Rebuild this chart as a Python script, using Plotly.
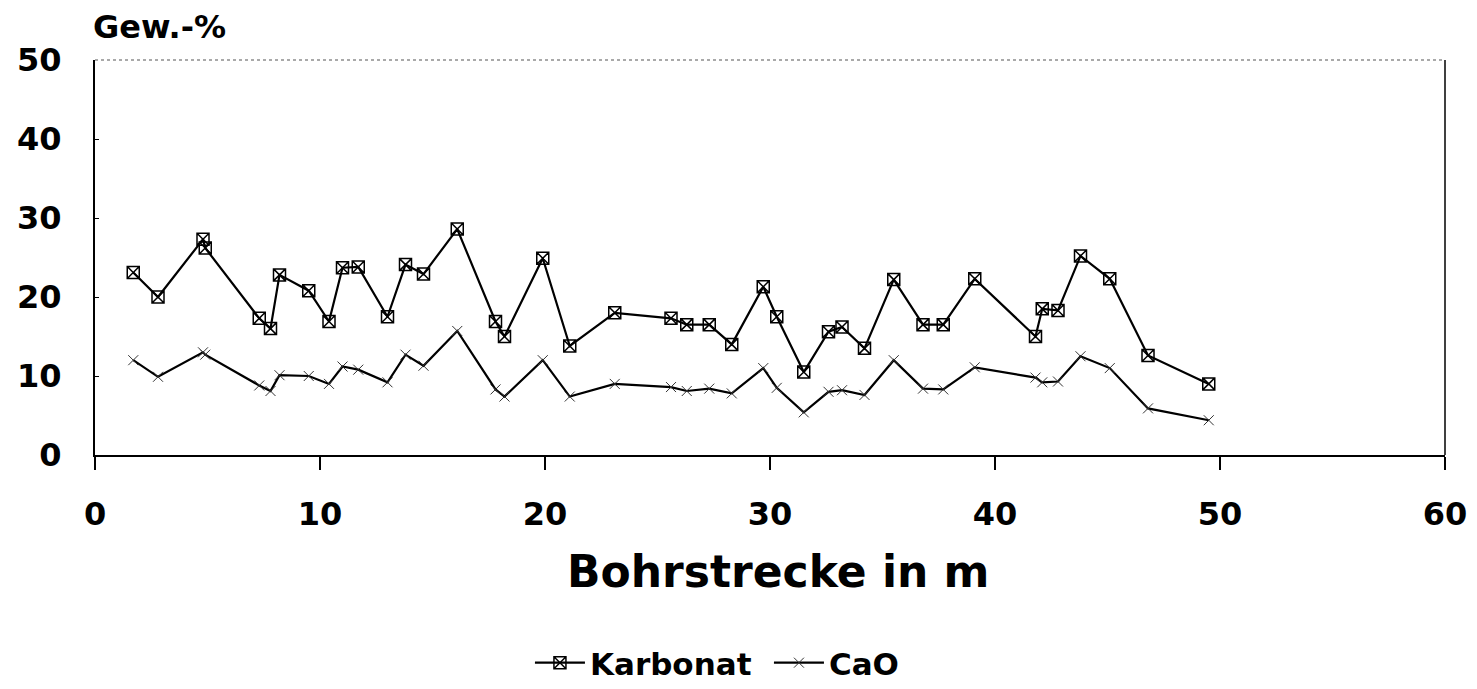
import plotly.graph_objects as go

# Bohrstrecke (m)
bohrstrecke = [1.7, 2.8, 4.8, 4.9, 7.3, 7.8, 8.2, 9.5, 10.4, 11.0, 11.7, 13.0, 13.8, 14.6,
               16.1, 17.8, 18.2, 19.9, 21.1, 23.1, 25.6, 26.3, 27.3, 28.3, 29.7, 30.3,
               31.5, 32.6, 33.2, 34.2, 35.5, 36.8, 37.7, 39.1, 41.8, 42.1, 42.8, 43.8,
               45.1, 46.8, 49.5]

karbonat = [23.1, 20.0, 27.3, 26.2, 17.3, 16.0, 22.8, 20.8, 16.9, 23.7, 23.8, 17.5, 24.1, 22.9,
            28.6, 16.9, 15.0, 24.9, 13.8, 18.0, 17.3, 16.5, 16.5, 14.0, 21.3, 17.5,
            10.5, 15.6, 16.2, 13.5, 22.2, 16.5, 16.5, 22.3, 15.0, 18.5, 18.3, 25.2,
            22.3, 12.6, 9.0]

cao = [12.0, 9.9, 13.0, 12.7, 8.8, 8.1, 10.1, 10.0, 9.0, 11.2, 10.8, 9.2, 12.7, 11.3,
       15.7, 8.3, 7.4, 12.0, 7.4, 9.0, 8.6, 8.1, 8.4, 7.8, 11.0, 8.5,
       5.4, 8.0, 8.2, 7.6, 12.0, 8.4, 8.3, 11.1, 9.8, 9.2, 9.3, 12.5,
       11.0, 5.9, 4.4]

x_ticks = [0, 10, 20, 30, 40, 50, 60]
y_ticks = [0, 10, 20, 30, 40, 50]

FONT = "DejaVu Sans"

fig = go.Figure()
fig.add_trace(go.Scatter(
    x=bohrstrecke, y=karbonat, name="Karbonat", mode="lines+markers",
    line=dict(color="black", width=2.2),
    marker=dict(symbol="square-x-open", size=12, color="black", line=dict(width=1.5)),
))
fig.add_trace(go.Scatter(
    x=bohrstrecke, y=cao, name="CaO", mode="lines+markers",
    line=dict(color="black", width=2.2),
    marker=dict(symbol="x-thin-open", size=10, color="#333333", line=dict(width=1)),
))

fig.update_layout(
    width=1477, height=689,
    margin=dict(l=95, r=32, t=60, b=234, autoexpand=False),
    paper_bgcolor="white", plot_bgcolor="white",
    font=dict(family=FONT, color="black"),
    showlegend=True,
    legend=dict(orientation="h", xref="container", yref="container",
                x=0.3588, xanchor="left", y=0.0377, yanchor="middle",
                font=dict(family=FONT, size=31, color="black", weight="bold"),
                bgcolor="rgba(0,0,0,0)", itemwidth=50,
                entrywidth=174, entrywidthmode="pixels"),
    xaxis=dict(range=[0, 60], tickvals=x_ticks, ticktext=[str(v) for v in x_ticks],
               showgrid=False, zeroline=False, showline=True, linecolor="black", linewidth=2,
               ticks="outside", ticklen=13, tickwidth=1.5, tickcolor="black",
               tickfont=dict(family=FONT, size=32, color="black", weight="bold"),
               ticklabelstandoff=17),
    yaxis=dict(range=[0, 50], tickvals=y_ticks, ticktext=[str(v) for v in y_ticks],
               showgrid=False, zeroline=False, showline=True, linecolor="black", linewidth=2,
               ticks="inside", ticklen=4, tickwidth=1, tickcolor="black",
               tickfont=dict(family=FONT, size=32, color="black", weight="bold"),
               ticklabelstandoff=25),
    shapes=[
        dict(type="line", xref="x domain", yref="y domain", x0=0, x1=1, y0=1, y1=1,
             line=dict(color="#555555", width=1.2, dash="dot")),
        dict(type="line", xref="x domain", yref="y domain", x0=1, x1=1, y0=0, y1=1,
             line=dict(color="black", width=1.5)),
    ],
    annotations=[
        dict(text="Gew.-%", xref="paper", yref="paper", x=0, y=1, xanchor="left",
             yanchor="bottom", yshift=12, xshift=-4, showarrow=False,
             font=dict(family=FONT, size=32, color="black", weight="bold")),
        dict(text="Bohrstrecke in m", xref="paper", yref="paper", x=0.506, y=-0.296,
             xanchor="center", yanchor="middle", showarrow=False,
             font=dict(family=FONT, size=44, color="black", weight="bold")),
    ],
)

fig.write_html("out.html")
